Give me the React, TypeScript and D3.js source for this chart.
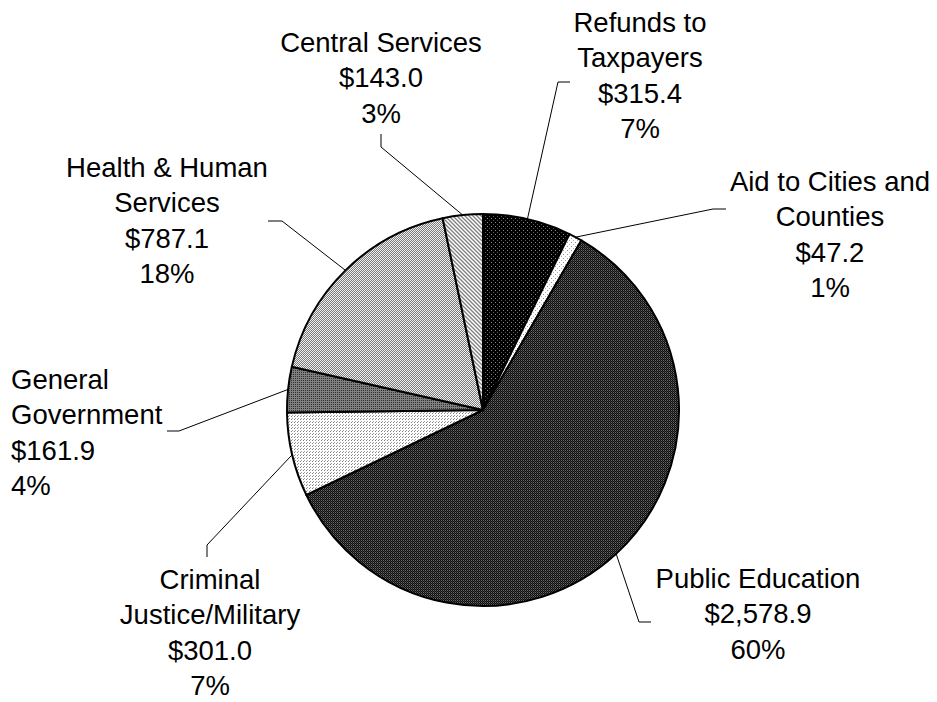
import React from "react";
import * as d3 from "d3";

const categories = [
  "Refunds to Taxpayers",
  "Aid to Cities and Counties",
  "Public Education",
  "Criminal Justice/Military",
  "General Government",
  "Health & Human Services",
  "Central Services",
];
const labelLines = [
  ["Refunds to", "Taxpayers"],
  ["Aid to Cities and", "Counties"],
  ["Public Education"],
  ["Criminal", "Justice/Military"],
  ["General", "Government"],
  ["Health & Human", "Services"],
  ["Central Services"],
];
const values = [315.4, 47.2, 2578.9, 301.0, 161.9, 787.1, 143.0];
const pctLabels = ["7%", "1%", "60%", "7%", "4%", "18%", "3%"];
const patternIds = ["pRefunds", "pAid", "pPublic", "pCriminal", "pGeneral", "pHealth", "pCentral"];

// layout (label anchor + leader elbow/end)
const labelLayout = [
  { x: 640, y: 32, anchor: "middle", elbow: [558, 82], end: [570, 82] },
  { x: 830, y: 191, anchor: "middle", elbow: [713, 209], end: [726, 209] },
  { x: 758, y: 588, anchor: "middle", elbow: [639, 622], end: [651, 622] },
  { x: 210, y: 589, anchor: "middle", elbow: [207, 545], end: [207, 557] },
  { x: 11, y: 389, anchor: "start", elbow: [179, 431], end: [167, 431] },
  { x: 167, y: 177, anchor: "middle", elbow: [282, 221], end: [268, 221] },
  { x: 381, y: 52, anchor: "middle", elbow: [381, 147], end: [381, 134] },
];

const W = 937;
const H = 702;
const cx = 483;
const cy = 410;
const R = 196;
const LINE = 35.3;
const FONT = 27.5;

export default function App() {
  const pie = d3.pie<number>().sort(null).value((d) => d)(values);
  const arc = d3.arc<d3.PieArcDatum<number>>().innerRadius(0).outerRadius(R);
  const fmt = d3.format(",.1f");

  return (
    <svg
      width={W}
      height={H}
      style={{ position: "absolute", left: 0, top: 0, background: "#fff" }}
      fontFamily="'Liberation Sans', Arial, sans-serif"
    >
      <defs>
        <pattern id="pRefunds" width={4} height={4} patternUnits="userSpaceOnUse">
          <rect width={4} height={4} fill="#000" />
          <rect x={0} y={0} width={1} height={1} fill="#8a8a8a" />
          <rect x={2} y={2} width={1} height={1} fill="#5a5a5a" />
        </pattern>
        <pattern id="pAid" width={4} height={4} patternUnits="userSpaceOnUse">
          <rect width={4} height={4} fill="#fff" />
          <rect x={0} y={0} width={1} height={1} fill="#909090" />
          <rect x={2} y={2} width={1} height={1} fill="#b0b0b0" />
        </pattern>
        <pattern id="pPublic" width={2} height={2} patternUnits="userSpaceOnUse">
          <rect width={2} height={2} fill="#0d0d0d" />
          <rect x={0} y={0} width={1} height={1} fill="#6a6a6a" />
          <rect x={1} y={1} width={1} height={1} fill="#3a3a3a" />
        </pattern>
        <pattern id="pCriminal" width={3} height={3} patternUnits="userSpaceOnUse">
          <rect width={3} height={3} fill="#fff" />
          <rect x={0} y={0} width={1} height={1} fill="#808080" />
          <rect x={1} y={2} width={1} height={1} fill="#a0a0a0" />
        </pattern>
        <pattern id="pGeneral" width={2} height={2} patternUnits="userSpaceOnUse">
          <rect width={2} height={2} fill="#808080" />
          <rect x={0} y={0} width={1} height={1} fill="#303030" />
        </pattern>
        <pattern id="pHealth" width={2} height={2} patternUnits="userSpaceOnUse">
          <rect width={2} height={2} fill="#f0f0f0" />
          <rect x={0} y={0} width={1} height={1} fill="#7a7a7a" />
          <rect x={1} y={1} width={1} height={1} fill="#7a7a7a" />
        </pattern>
        <pattern id="pCentral" width={4} height={4} patternUnits="userSpaceOnUse">
          <rect width={4} height={4} fill="#fff" />
          <path d="M-1,-1 L5,5 M-1,3 L1,5 M3,-1 L5,1" stroke="#808080" strokeWidth={1.3} />
        </pattern>
      </defs>
      <g transform={`translate(${cx},${cy})`}>
        {pie.map((d, i) => (
          <path
            key={categories[i]}
            d={arc(d) || ""}
            fill={`url(#${patternIds[i]})`}
            stroke="#000"
            strokeWidth={2}
            strokeLinejoin="round"
          />
        ))}
      </g>
      {pie.map((d, i) => {
        const mid = (d.startAngle + d.endAngle) / 2;
        const sx = cx + R * Math.sin(mid);
        const sy = cy - R * Math.cos(mid);
        const L = labelLayout[i];
        return (
          <polyline
            key={"l" + i}
            points={`${sx},${sy} ${L.elbow[0]},${L.elbow[1]} ${L.end[0]},${L.end[1]}`}
            fill="none"
            stroke="#000"
            strokeWidth={1}
          />
        );
      })}
      {categories.map((c, i) => {
        const L = labelLayout[i];
        const lines = [...labelLines[i], "$" + fmt(values[i]), pctLabels[i]];
        return (
          <text key={"t" + c} x={L.x} y={L.y} textAnchor={L.anchor} fontSize={FONT} fill="#000">
            {lines.map((t, j) => (
              <tspan key={j} x={L.x} y={L.y + j * LINE}>
                {t}
              </tspan>
            ))}
          </text>
        );
      })}
    </svg>
  );
}
